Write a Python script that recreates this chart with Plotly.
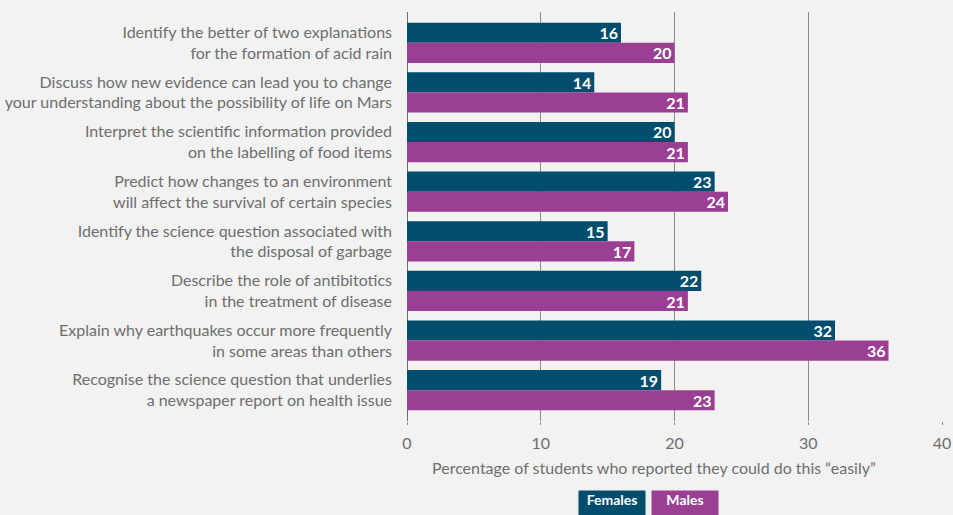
import plotly.graph_objects as go

# Survey items (top to bottom) and the share of students answering "easily"
items = [
    "Identify the better of two explanations<br>for the formation of acid rain",
    "Discuss how new evidence can lead you to change<br>your understanding about the possibility of life on Mars",
    "Interpret the scientific information provided<br>on the labelling of food items",
    "Predict how changes to an environment<br>will affect the survival of certain species",
    "Identify the science question associated with<br>the disposal of garbage",
    "Describe the role of antibitotics<br>in the treatment of disease",
    "Explain why earthquakes occur more frequently<br>in some areas than others",
    "Recognise the science question that underlies<br>a newspaper report on health issue",
]
females = [16, 14, 20, 23, 15, 22, 32, 19]
males = [20, 21, 21, 24, 17, 21, 36, 23]
x_ticks = [0, 10, 20, 30, 40]

FEMALE_COLOR = "#004D6E"
MALE_COLOR = "#9A3F93"
BG = "#F2F2F2"
TEXT = "#6E6E6E"
GRID = "#8C8C8C"
FONT = "Lato, 'Open Sans', sans-serif"

fig = go.Figure()
for name, vals, color in [("Females", females, FEMALE_COLOR), ("Males", males, MALE_COLOR)]:
    fig.add_trace(go.Bar(
        y=items, x=vals, name=name, orientation="h",
        marker=dict(color=color, line=dict(width=0)),
        text=[str(v) for v in vals], textposition="inside",
        insidetextanchor="end", textangle=0,
        textfont=dict(color="white", size=16, family=FONT, weight="bold"),
        cliponaxis=False,
    ))

fig.update_layout(
    width=953, height=515,
    margin=dict(l=407, r=11, t=12, b=94),
    paper_bgcolor=BG, plot_bgcolor=BG,
    barmode="group", bargap=0.19, bargroupgap=0,
    showlegend=False,
    font=dict(family=FONT, color=TEXT, size=15),
    uniformtext=dict(minsize=16, mode="show"),
)
fig.update_xaxes(
    range=[0, 40], tickvals=x_ticks, showgrid=True, gridcolor=GRID, gridwidth=1,
    zeroline=True, zerolinecolor="#6E6E6E", zerolinewidth=1,
    ticks="outside", ticklen=3, tickcolor=GRID, ticklabelstandoff=5,
    tickfont=dict(size=16, color=TEXT), showline=False, automargin=False,
)
fig.update_yaxes(
    categoryorder="array", categoryarray=items,
    range=[7.62, -0.62], showgrid=False, ticks="", ticklabelstandoff=14,
    tickfont=dict(size=16, color=TEXT), showline=False, zeroline=False,
    automargin=False,
)

# axis title
fig.add_annotation(
    text="Percentage of students who reported they could do this \u201ceasily\u201d",
    xref="paper", yref="paper", x=(654 - 407) / 535, y=-(467 - 421) / 409,
    xanchor="center", yanchor="middle", showarrow=False,
    font=dict(size=16, color=TEXT, family=FONT),
)

# legend swatches
for label, color, x0, x1 in [("Females", FEMALE_COLOR, 579, 645), ("Males", MALE_COLOR, 652, 718)]:
    fig.add_annotation(
        text="<b>%s</b>" % label,
        xref="paper", yref="paper",
        x=((x0 + x1) / 2 - 407) / 535, y=-(490 - 421) / 409,
        xanchor="center", yanchor="top", showarrow=False,
        width=x1 - x0, height=28, bgcolor=color, borderpad=0,
        font=dict(size=14, color="white", family=FONT), valign="top",
    )

fig.write_html("out.html")
